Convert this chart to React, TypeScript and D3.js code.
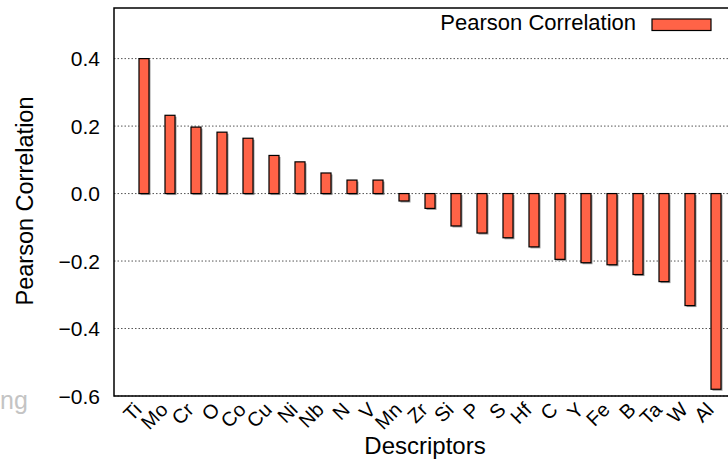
import { useEffect, useRef } from "react";
import * as d3 from "d3";

const descriptors = ["Ti", "Mo", "Cr", "O", "Co", "Cu", "Ni", "Nb", "N", "V", "Mn", "Zr", "Si", "P", "S", "Hf", "C", "Y", "Fe", "B", "Ta", "W", "Al"];
const correlations = [0.4, 0.232, 0.197, 0.182, 0.164, 0.113, 0.094, 0.061, 0.04, 0.04, -0.022, -0.044, -0.096, -0.117, -0.131, -0.158, -0.195, -0.205, -0.211, -0.24, -0.261, -0.332, -0.58];
const yTicks = [0.4, 0.2, 0.0, -0.2, -0.4, -0.6];

const App = () => {
  const svgRef = useRef<SVGSVGElement | null>(null);
  const width = 728;
  const height = 464;
  const plot = { left: 114, top: 8, right: 760, bottom: 396 };
  const font = "Liberation Sans, Arial, Helvetica, sans-serif";
  const barColor = "#ff6347";

  useEffect(() => {
    const svg = d3.select(svgRef.current);
    svg.selectAll("*").remove();

    const x = d3
      .scaleBand<string>()
      .domain(descriptors)
      .range([131, 131 + descriptors.length * 26])
      .paddingInner(0.615)
      .paddingOuter(0.3075);
    const y = d3.scaleLinear().domain([-0.6, 0.55]).range([plot.bottom, plot.top]);

    const g = svg.append("g");

    // grid lines (dotted)
    g.selectAll(".grid")
      .data(yTicks)
      .enter()
      .append("line")
      .attr("x1", plot.left)
      .attr("x2", plot.right)
      .attr("y1", (d) => y(d))
      .attr("y2", (d) => y(d))
      .attr("stroke", "#555")
      .attr("stroke-width", 1)
      .attr("stroke-dasharray", "1.5,2");

    // tick labels
    g.selectAll(".ytick")
      .data(yTicks)
      .enter()
      .append("text")
      .attr("x", 100)
      .attr("y", (d) => y(d) + 7.5)
      .attr("text-anchor", "end")
      .attr("font-family", font)
      .attr("font-size", 21)
      .attr("fill", "#000")
      .text((d) => (d < 0 ? "\u2212" + Math.abs(d).toFixed(1) : d.toFixed(1)));

    const zero = y(0);

    // bar shadows
    g.selectAll(".shadow")
      .data(correlations)
      .enter()
      .append("rect")
      .attr("x", (_, i) => (x(descriptors[i]) as number) + 1.5)
      .attr("y", (d) => Math.min(y(d), zero) + 1.5)
      .attr("width", x.bandwidth())
      .attr("height", (d) => Math.abs(y(d) - zero))
      .attr("fill", "#9a9a9a");

    // bars
    g.selectAll(".bar")
      .data(correlations)
      .enter()
      .append("rect")
      .attr("x", (_, i) => x(descriptors[i]) as number)
      .attr("y", (d) => Math.min(y(d), zero))
      .attr("width", x.bandwidth())
      .attr("height", (d) => Math.abs(y(d) - zero))
      .attr("fill", barColor)
      .attr("stroke", "#000")
      .attr("stroke-width", 1.2);

    // frame
    g.append("path")
      .attr("d", `M${plot.right},${plot.top}H${plot.left}V${plot.bottom}H${plot.right}`)
      .attr("fill", "none")
      .attr("stroke", "#000")
      .attr("stroke-width", 1.5);

    // x labels, rotated 45 degrees
    g.selectAll(".xtick")
      .data(descriptors)
      .enter()
      .append("text")
      .attr("transform", (d) => {
        const cx = (x(d) as number) + x.bandwidth() / 2 - 1;
        return `translate(${cx},${411}) rotate(-45)`;
      })
      .attr("text-anchor", "end")
      .attr("font-family", font)
      .attr("font-size", 20)
      .attr("fill", "#000")
      .text((d) => d);

    // axis titles
    g.append("text")
      .attr("x", 425)
      .attr("y", 454)
      .attr("text-anchor", "middle")
      .attr("font-family", font)
      .attr("font-size", 24)
      .text("Descriptors");

    g.append("text")
      .attr("transform", `translate(33,201) rotate(-90)`)
      .attr("text-anchor", "middle")
      .attr("font-family", font)
      .attr("font-size", 23.5)
      .text("Pearson Correlation");

    // legend
    g.append("text")
      .attr("x", 636)
      .attr("y", 30)
      .attr("text-anchor", "end")
      .attr("font-family", font)
      .attr("font-size", 22)
      .text("Pearson Correlation");
    g.append("rect")
      .attr("x", 652)
      .attr("y", 19)
      .attr("width", 59)
      .attr("height", 11.5)
      .attr("fill", barColor)
      .attr("stroke", "#000")
      .attr("stroke-width", 1.2);

    // stray watermark fragment
    g.append("text")
      .attr("x", 0)
      .attr("y", 409)
      .attr("font-family", font)
      .attr("font-size", 25)
      .attr("fill", "#c4c4c4")
      .text("ng");
  }, []);

  return (
    <svg
      ref={svgRef}
      width={width}
      height={height}
      style={{ position: "absolute", left: 0, top: 0, background: "#fff" }}
    />
  );
};

export default App;
